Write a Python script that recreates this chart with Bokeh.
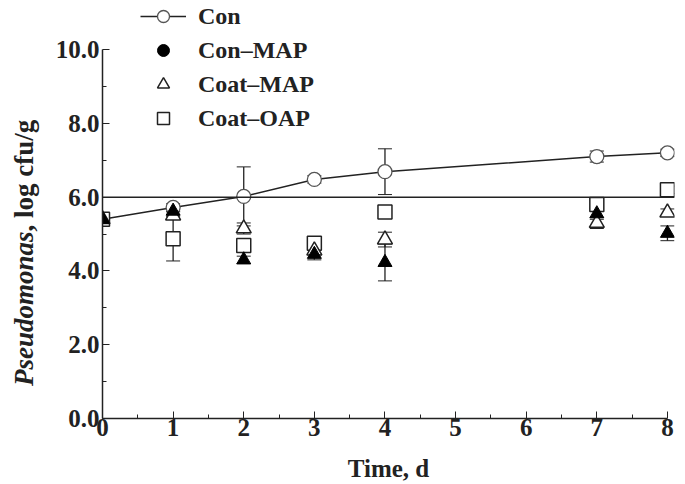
from bokeh.plotting import figure
from bokeh.models import (ColumnDataSource, Whisker, Span, Legend, LegendItem,
                          FixedTicker, NumeralTickFormatter, Div)
from bokeh.layouts import row
from bokeh.embed import file_html
from bokeh.resources import INLINE

# ---- data ----
days = [0, 1, 2, 3, 4, 7, 8]
con = [5.4, 5.72, 6.02, 6.48, 6.69, 7.1, 7.2]
con_err = [0.1, 0.1, 0.8, 0.1, 0.62, 0.15, 0.1]
con_map = [5.4, 5.62, 4.3, 4.45, 4.23, 5.55, 5.02]
con_map_err = [0.1, 0.1, 0.1, 0.15, 0.5, 0.15, 0.2]
coat_map = [5.4, 5.5, 5.15, 4.55, 4.85, 5.3, 5.58]
coat_map_err = [0.1, 0.1, 0.15, 0.1, 0.2, 0.15, 0.1]
coat_oap = [5.4, 4.87, 4.69, 4.75, 5.6, 5.8, 6.2]
coat_oap_err = [0.1, 0.6, 0.1, 0.15, 0.1, 0.1, 0.1]
ref_level = 6.0
x_ticks = [0, 1, 2, 3, 4, 5, 6, 7, 8]
y_ticks = [0, 2, 4, 6, 8, 10]
y_title_italic = "Pseudomonas"
y_title_rest = ", log cfu/g"

FONT = "Liberation Serif"
INK = "#222222"
DIV_W = 40

p = figure(width=685 - DIV_W, height=484, x_range=(0, 8.1), y_range=(0, 11.33),
           output_backend="svg", toolbar_location=None,
           min_border_left=102 - DIV_W, min_border_right=11, min_border_top=0,
           min_border_bottom=66, margin=0)
p.outline_line_color = None
p.grid.grid_line_color = None
p.background_fill_color = "white"
p.border_fill_color = "white"

def src(vals, err):
    return ColumnDataSource(dict(x=days, y=vals,
                                 lo=[v - e for v, e in zip(vals, err)],
                                 hi=[v + e for v, e in zip(vals, err)]))

s_con = src(con, con_err)
s_cmap = src(con_map, con_map_err)
s_tmap = src(coat_map, coat_map_err)
s_toap = src(coat_oap, coat_oap_err)

for s in (s_con, s_cmap, s_tmap, s_toap):
    w = Whisker(source=s, base="x", lower="lo", upper="hi",
                line_color=INK, line_width=1.3)
    w.upper_head.size = 14
    w.lower_head.size = 14
    w.upper_head.line_color = INK
    w.lower_head.line_color = INK
    p.add_layout(w)

p.add_layout(Span(location=ref_level, dimension="width", line_color=INK, line_width=1.5))

r_line = p.line("x", "y", source=s_con, line_color=INK, line_width=1.5)
r_con = p.scatter("x", "y", source=s_con, marker="circle", size=14,
                  fill_color="white", line_color="#555555", line_width=1.3)
r_toap = p.scatter("x", "y", source=s_toap, marker="square", size=14,
                   fill_color="white", line_color=INK, line_width=1.5)
r_tmap = p.scatter("x", "y", source=s_tmap, marker="triangle", size=15,
                   fill_color="white", line_color=INK, line_width=1.5)
r_cmap = p.scatter("x", "y", source=s_cmap, marker="triangle", size=14,
                   fill_color="black", line_color="black")
# key glyph for Con-MAP as drawn in the reference legend (hidden renderer)
r_cmap_key = p.scatter("x", "y", source=s_cmap, marker="circle", size=13,
                       fill_color="black", line_color="black", visible=False)

legend = Legend(items=[
    LegendItem(label="Con", renderers=[r_line, r_con]),
    LegendItem(label="Con\u2013MAP", renderers=[r_cmap_key]),
    LegendItem(label="Coat\u2013MAP", renderers=[r_tmap]),
    LegendItem(label="Coat\u2013OAP", renderers=[r_toap]),
], location=(38, 285))
legend.border_line_color = None
legend.background_fill_alpha = 0
legend.label_text_font = FONT
legend.label_text_font_style = "bold"
legend.label_text_font_size = "24px"
legend.label_text_color = INK
legend.glyph_width = 46
legend.glyph_height = 30
legend.spacing = 4
legend.padding = 0
legend.margin = 0
legend.label_standoff = 12
legend.label_height = 30
p.add_layout(legend)

# axes
for ax in (p.xaxis[0], p.yaxis[0]):
    ax.axis_line_color = INK
    ax.axis_line_width = 1.5
    ax.major_tick_line_color = INK
    ax.minor_tick_line_color = INK
    ax.major_tick_in = 7
    ax.major_tick_out = 0
    ax.minor_tick_in = 4
    ax.minor_tick_out = 0
    ax.major_label_text_font = FONT
    ax.major_label_text_font_style = "bold"
    ax.major_label_text_font_size = "25px"
    ax.major_label_text_color = INK

p.xaxis.ticker = FixedTicker(ticks=x_ticks,
                             minor_ticks=[t + 0.5 for t in x_ticks[:-1]])
p.xaxis.bounds = (0, 8)
p.xaxis.major_label_standoff = 0
p.xaxis.axis_label = "Time, d"
p.xaxis.axis_label_text_font = FONT
p.xaxis.axis_label_text_font_style = "bold"
p.xaxis.axis_label_text_font_size = "25px"
p.xaxis.axis_label_text_color = INK
p.xaxis.axis_label_standoff = 16

p.yaxis.ticker = FixedTicker(ticks=y_ticks,
                             minor_ticks=[t + 1 for t in y_ticks[:-1]])
p.yaxis.bounds = (0, 10)
p.yaxis.formatter = NumeralTickFormatter(format="0.0")
p.yaxis.major_label_standoff = 3

# y axis title (mixed italic / upright) as rotated HTML text
ytitle = Div(
    text=(
        '<div style="position:absolute; left:9px; top:386px; '
        'transform-origin:0 0; transform:rotate(-90deg); white-space:nowrap; '
        "font-family:'Liberation Serif'; font-weight:bold; font-size:27px; "
        'line-height:30px; color:#222222;">'
        f'<i>{y_title_italic}</i>{y_title_rest}</div>'
    ),
    width=DIV_W, height=484, margin=0,
    styles={"overflow": "visible", "position": "relative"},
)

layout = row(ytitle, p, spacing=0, margin=0)
open("out.html", "w").write(file_html(layout, INLINE))
